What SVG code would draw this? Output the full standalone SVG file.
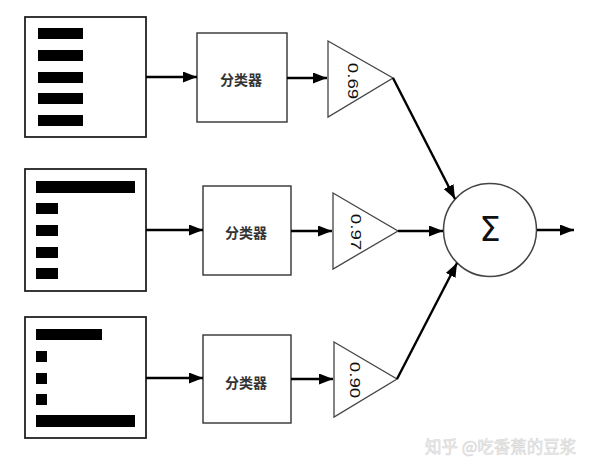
<svg xmlns="http://www.w3.org/2000/svg" width="602" height="473" viewBox="0 0 602 473">
<style>
.box{fill:#fff;stroke:#222;stroke-width:1.8}
.bar{fill:#000}
.cls{fill:#fff;stroke:#333;stroke-width:1.4}
.tri{fill:#fff;stroke:#444;stroke-width:1.3}
.lbl{font-family:"Noto Sans CJK SC","Liberation Sans",sans-serif;font-size:14px;font-weight:bold;fill:#333;text-anchor:middle;dominant-baseline:central}
.num{font-family:"Liberation Sans",Arial,sans-serif;font-size:15px;fill:#111;text-anchor:middle;dominant-baseline:central}
.conn line{stroke:#000;stroke-width:2.4}
.wm{font-family:"Noto Sans CJK SC",sans-serif;font-size:16.5px;fill:#efefef;stroke:#d2d2d2;stroke-width:0.5}
</style>
<defs>
<marker id="ah" markerUnits="userSpaceOnUse" markerWidth="15" markerHeight="12" refX="14" refY="5.5" orient="auto">
<path d="M0,0 L14,5.5 L0,11 Z" fill="#000"/>
</marker>
</defs>
<g id="input1">
<rect class="box" x="25" y="17" width="121" height="120"/>
<rect class="bar" x="38" y="28" width="45" height="11"/>
<rect class="bar" x="38" y="50" width="45" height="11"/>
<rect class="bar" x="38" y="72" width="45" height="11"/>
<rect class="bar" x="38" y="93" width="45" height="11"/>
<rect class="bar" x="38" y="115" width="45" height="11"/>
</g>
<g id="input2">
<rect class="box" x="25" y="169" width="121" height="122"/>
<rect class="bar" x="36" y="181" width="99" height="12"/>
<rect class="bar" x="36" y="203" width="22" height="11"/>
<rect class="bar" x="36" y="225" width="22" height="11"/>
<rect class="bar" x="36" y="247" width="22" height="11"/>
<rect class="bar" x="36" y="268" width="22" height="11"/>
</g>
<g id="input3">
<rect class="box" x="25" y="317" width="121" height="121"/>
<rect class="bar" x="36" y="329" width="66" height="11"/>
<rect class="bar" x="36" y="351" width="11" height="11"/>
<rect class="bar" x="36" y="373" width="11" height="11"/>
<rect class="bar" x="36" y="394" width="11" height="11"/>
<rect class="bar" x="36" y="415" width="99" height="12"/>
</g>
<g id="classifier1">
<rect class="cls" x="197" y="33" width="90" height="89"/>
<text class="lbl" x="241" y="79">分类器</text>
</g>
<g id="classifier2">
<rect class="cls" x="203" y="186" width="88" height="89"/>
<text class="lbl" x="246" y="232">分类器</text>
</g>
<g id="classifier3">
<rect class="cls" x="203" y="335" width="88" height="88"/>
<text class="lbl" x="246" y="382">分类器</text>
</g>
<g id="weight1">
<polygon class="tri" points="328,41 393,78 328,117"/>
<text class="num" transform="translate(353,81) rotate(90) scale(1.25,1)">0.69</text>
</g>
<g id="weight2">
<polygon class="tri" points="333,193 398,231 333,269"/>
<text class="num" transform="translate(356,232) rotate(90) scale(1.25,1)">0.97</text>
</g>
<g id="weight3">
<polygon class="tri" points="334,342 397,379 334,417"/>
<text class="num" transform="translate(355,380) rotate(90) scale(1.25,1)">0.90</text>
</g>
<g id="sum">
<circle cx="490" cy="230" r="46.5" fill="#fff" stroke="#444" stroke-width="1.5"/>
<text x="490" y="229" font-family="DejaVu Sans,sans-serif" font-size="34" fill="#111" text-anchor="middle" dominant-baseline="central">Σ</text>
</g>
<g class="conn" id="connectors">
<line x1="146" y1="77" x2="197" y2="77" marker-end="url(#ah)"/>
<line x1="146" y1="230" x2="203" y2="230" marker-end="url(#ah)"/>
<line x1="146" y1="378" x2="203" y2="378" marker-end="url(#ah)"/>
<line x1="287" y1="78" x2="327" y2="78" marker-end="url(#ah)"/>
<line x1="291" y1="231" x2="332" y2="231" marker-end="url(#ah)"/>
<line x1="291" y1="379" x2="333" y2="379" marker-end="url(#ah)"/>
<line x1="393" y1="78" x2="455" y2="199" marker-end="url(#ah)"/>
<line x1="398" y1="231" x2="443" y2="231" marker-end="url(#ah)"/>
<line x1="397" y1="379" x2="457" y2="263" marker-end="url(#ah)"/>
<line x1="537" y1="230" x2="574" y2="230" marker-end="url(#ah)"/>
</g>
<text class="wm" x="425" y="453">知乎 @吃香蕉的豆浆</text>
</svg>
